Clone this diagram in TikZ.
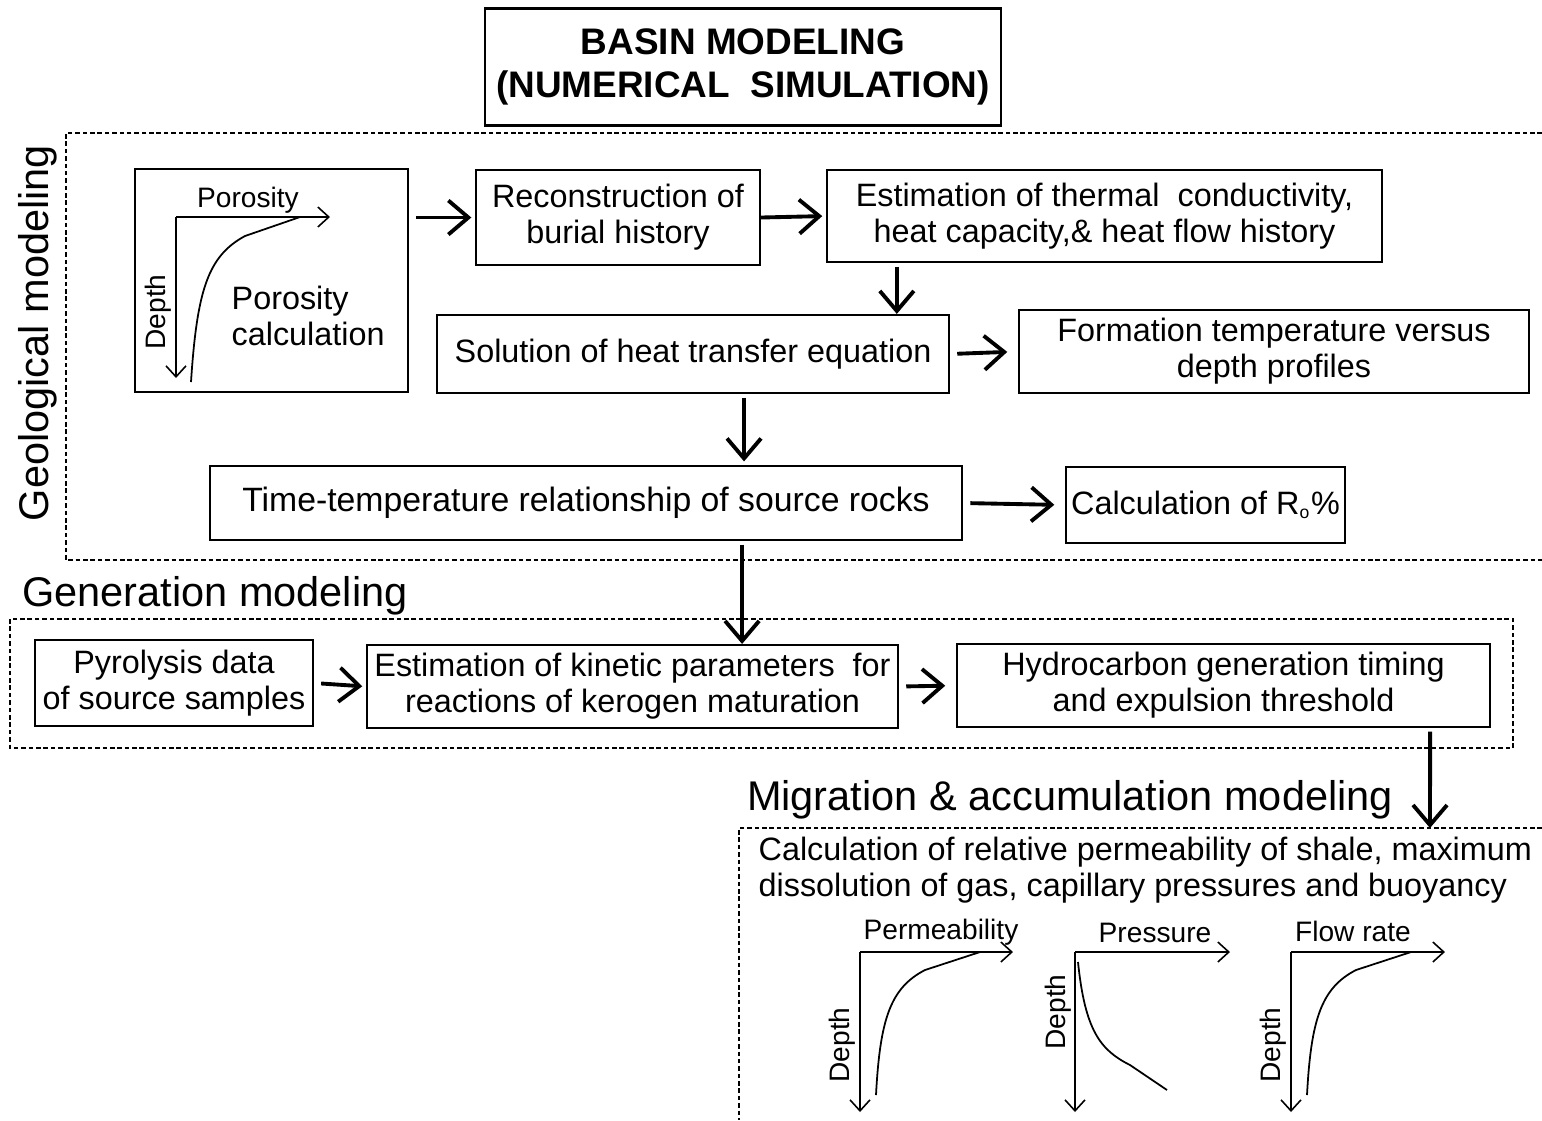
\documentclass[tikz,border=0pt]{standalone}
\usepackage{fontspec}
\setmainfont{Liberation Sans}
\usetikzlibrary{shapes,arrows.meta}

\begin{document}
\begin{tikzpicture}[x=0.01cm,y=-0.01cm]
    \tikzstyle{every node}=[font=\fontsize{9.2}{10.3}\selectfont, inner sep=0pt, align=center]
    \tikzstyle{box}=[rectangle, draw, line width=0.6pt]
    \tikzstyle{flow}=[line width=1.1pt, -{Straight Barb[length=2mm,width=3.4mm]}]
    \tikzstyle{axis}=[line width=0.45pt, -{Straight Barb[length=1.1mm,width=2mm]}]
    \tikzstyle{zone}=[line width=0.45pt, dash pattern=on 1.3pt off 0.8pt]
    \tikzstyle{zonelabel}=[font=\fontsize{11.8}{14}\selectfont]
    \tikzstyle{axlabel}=[font=\fontsize{8}{9}\selectfont]
    \useasboundingbox (0,0) rectangle (1542,1120);

    \node[box, minimum width=5.16cm, minimum height=1.17cm, font=\fontsize{10.5}{12}\selectfont\bfseries] (title) at (743,67) {BASIN MODELING\\(NUMERICAL\ \ SIMULATION)};

    \draw[zone] (1542,133) -- (66,133) -- (66,560) -- (1542,560);
    \draw[zone] (10,619) rectangle (1513,748);
    \draw[zone] (1542,828) -- (739,828) -- (739,1120);
    \node[zonelabel, rotate=90] (geolabel) at (38,333) {Geological modeling};
    \node[zonelabel] (genlabel) at (215,596) {Generation modeling};
    \node[zonelabel] (miglabel) at (1070,800) {Migration \& accumulation modeling};

    \node[box, minimum width=2.73cm, minimum height=2.23cm] (poro) at (271.5,280.5) {};
    \node[align=left, anchor=west] (porotext) at (231,316) {Porosity\\calculation};
    \node[axlabel] (porolabel) at (248,200) {Porosity};
    \node[axlabel, rotate=90] (porodepth) at (158,312) {Depth};
    \draw[axis] (176,217) -- (330,217);
    \draw[axis] (176,217) -- (176,378);
    \draw[line width=0.5pt] (300,217) -- (245,236) .. controls (208,256) and (197,290) .. (191,382);

    \node[box, minimum width=2.84cm, minimum height=0.95cm] (recon) at (618,217.5) {Reconstruction of\\burial history};
    \node[box, minimum width=5.55cm, minimum height=0.92cm] (thermal) at (1104.5,216) {Estimation of thermal\ \ conductivity,\\heat capacity,\& heat flow history};
    \node[box, minimum width=5.12cm, minimum height=0.78cm] (solution) at (693,354) {Solution of heat transfer equation};
    \node[box, minimum width=5.10cm, minimum height=0.83cm] (formation) at (1274,351.5) {Formation temperature versus\\depth profiles};
    \node[box, minimum width=7.52cm, minimum height=0.74cm, font=\fontsize{9.6}{11}\selectfont] (timetemp) at (586,503) {Time-temperature relationship of source rocks};
    \node[box, minimum width=2.79cm, minimum height=0.76cm] (ro) at (1205.5,505) {Calculation of R\textsubscript{\fontsize{5}{5}\selectfont o}\%};

    \node[box, minimum width=2.78cm, minimum height=0.86cm] (pyro) at (174,683) {Pyrolysis data\\of source samples};
    \node[box, minimum width=5.31cm, minimum height=0.83cm] (kinetic) at (632.5,686.5) {Estimation of kinetic parameters\ \ for\\reactions of kerogen maturation};
    \node[box, minimum width=5.33cm, minimum height=0.83cm] (hydro) at (1223.5,685.5) {Hydrocarbon generation timing\\and expulsion threshold};

    \coordinate (migtop) at (1430,828);

    \draw[flow, shorten <=2pt, shorten >=1pt] (poro.east |- recon.west) -- (recon.west);
    \draw[flow, shorten >=1pt] (recon.east) -- (thermal.west);
    \draw[flow, shorten <=1pt] ([xshift=0.71cm]thermal.south west) -- ([xshift=0.71cm]thermal.south west |- solution.north);
    \draw[flow, shorten <=2pt, shorten >=3pt] (solution.east) -- (formation.west);
    \draw[flow, shorten <=1pt, shorten >=1pt] ([xshift=0.51cm]solution.south) -- ([xshift=0.51cm]solution.south |- timetemp.north);
    \draw[flow, shorten <=2pt, shorten >=3pt] (timetemp.east) -- (ro.west);
    \draw[flow, shorten <=1pt] ([xshift=1.56cm]timetemp.south) -- ([xshift=1.56cm]timetemp.south |- kinetic.north);
    \draw[flow, shorten <=2pt, shorten >=1pt] (pyro.east) -- (kinetic.west);
    \draw[flow, shorten <=2pt, shorten >=3pt] (kinetic.east) -- (hydro.west);
    \draw[flow, shorten <=1pt] ([xshift=2.065cm]hydro.south) -- (migtop);

    \node[align=left, anchor=west] (migtext) at (758,870) {Calculation of relative permeability of shale, maximum\\dissolution of gas, capillary pressures and buoyancy};

    \node[axlabel] (permlabel) at (941,932) {Permeability};
    \node[axlabel, rotate=90] (permdepth) at (842,1045) {Depth};
    \draw[axis] (860,952) -- (1013,952);
    \draw[axis] (860,952) -- (860,1112);
    \draw[line width=0.5pt] (980,952) -- (925,970) .. controls (890,988) and (880,1020) .. (876,1095);

    \node[axlabel] (preslabel) at (1155,933) {Pressure};
    \node[axlabel, rotate=90] (presdepth) at (1058,1012) {Depth};
    \draw[axis] (1075,952) -- (1230,952);
    \draw[axis] (1075,952) -- (1075,1112);
    \draw[line width=0.5pt] (1078,962) .. controls (1085,1030) and (1100,1050) .. (1130,1065) -- (1167,1090);

    \node[axlabel] (flowlabel) at (1353,931) {Flow rate};
    \node[axlabel, rotate=90] (flowdepth) at (1273,1045) {Depth};
    \draw[axis] (1291,952) -- (1445,952);
    \draw[axis] (1291,952) -- (1291,1112);
    \draw[line width=0.5pt] (1411,952) -- (1356,970) .. controls (1321,988) and (1311,1020) .. (1307,1095);
\end{tikzpicture}
\end{document}
